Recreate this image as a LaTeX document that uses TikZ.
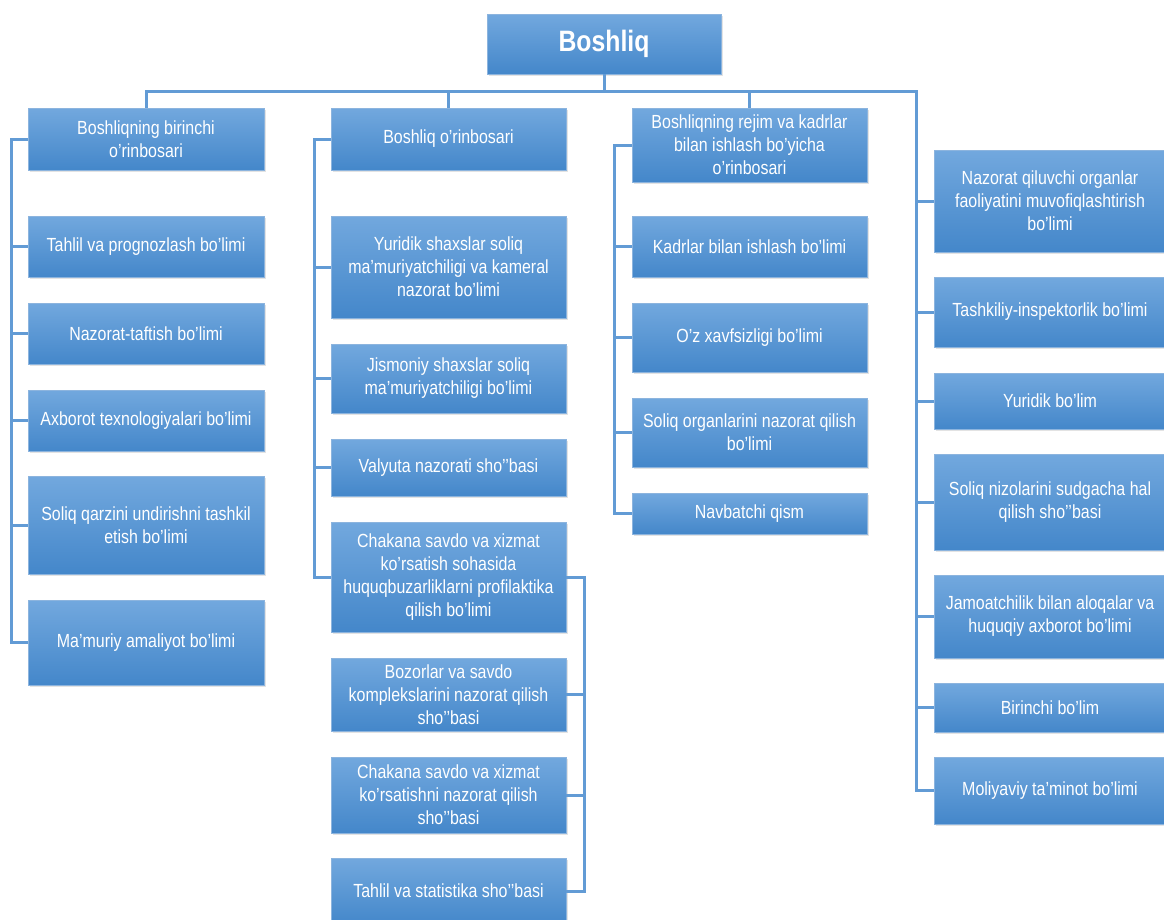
\documentclass[tikz,border=0pt]{standalone}
\usepackage{fontspec}
\setmainfont{Liberation Sans}[FakeStretch=0.84]
\usetikzlibrary{shadows}
\definecolor{boxtop}{RGB}{114,168,222}
\definecolor{boxmid}{RGB}{86,154,218}
\definecolor{boxbot}{RGB}{68,135,202}
\definecolor{connc}{RGB}{98,155,213}
\definecolor{boxedge}{RGB}{140,180,222}
\tikzset{
  orgbox/.style={rectangle, inner sep=0pt, align=center, text=white,
    top color=boxtop, middle color=boxmid, bottom color=boxbot,
    draw=boxedge, line width=0.6pt,
    drop shadow={opacity=0.22, shadow xshift=1.5pt, shadow yshift=-1.5pt},
    font=\fontsize{19}{23}\selectfont},
  conn/.style={draw=connc, line width=3pt}
}
\begin{document}
\begin{tikzpicture}[x=1pt,y=-1pt]
\useasboundingbox (0,0) rectangle (1164,919);
% root
\node[orgbox, minimum width=234, minimum height=60, font=\fontsize{29.5}{33}\selectfont\bfseries] (root) at (604,44) {Boshliq};
% column 1
\node[orgbox, minimum width=236, minimum height=62] (h1) at (146,139) {Boshliqning birinchi\\o’rinbosari};
\node[orgbox, minimum width=236, minimum height=61] (a1) at (146,246.5) {Tahlil va prognozlash bo’limi};
\node[orgbox, minimum width=236, minimum height=61] (a2) at (146,333.5) {Nazorat-taftish bo’limi};
\node[orgbox, minimum width=236, minimum height=61] (a3) at (146,420.5) {Axborot texnologiyalari bo’limi};
\node[orgbox, minimum width=236, minimum height=98] (a4) at (146,525) {Soliq qarzini undirishni tashkil\\etish bo’limi};
\node[orgbox, minimum width=236, minimum height=85] (a5) at (146,642.5) {Ma’muriy amaliyot bo’limi};
% column 2
\node[orgbox, minimum width=235, minimum height=62] (h2) at (448.5,139) {Boshliq o’rinbosari};
\node[orgbox, minimum width=235, minimum height=102] (b1) at (448.5,267) {Yuridik shaxslar soliq\\ma’muriyatchiligi va kameral\\nazorat bo’limi};
\node[orgbox, minimum width=235, minimum height=69] (b2) at (448.5,378.5) {Jismoniy shaxslar soliq\\ma’muriyatchiligi bo’limi};
\node[orgbox, minimum width=235, minimum height=57] (b3) at (448.5,467.5) {Valyuta nazorati sho’’basi};
\node[orgbox, minimum width=235, minimum height=110] (b4) at (448.5,577) {Chakana savdo va xizmat\\ko’rsatish sohasida\\huquqbuzarliklarni profilaktika\\qilish bo’limi};
\node[orgbox, minimum width=235, minimum height=73] (b5) at (448.5,694.5) {Bozorlar va savdo\\komplekslarini nazorat qilish\\sho’’basi};
\node[orgbox, minimum width=235, minimum height=76] (b6) at (448.5,795) {Chakana savdo va xizmat\\ko’rsatishni nazorat qilish\\sho’’basi};
\node[orgbox, minimum width=235, minimum height=66] (b7) at (448.5,891) {Tahlil va statistika sho’’basi};
% column 3
\node[orgbox, minimum width=235, minimum height=74] (h3) at (749.5,145) {Boshliqning rejim va kadrlar\\bilan ishlash bo’yicha\\o’rinbosari};
\node[orgbox, minimum width=235, minimum height=61] (c1) at (749.5,246.5) {Kadrlar bilan ishlash bo’limi};
\node[orgbox, minimum width=235, minimum height=69] (c2) at (749.5,337.5) {O’z xavfsizligi bo’limi};
\node[orgbox, minimum width=235, minimum height=69] (c3) at (749.5,432.5) {Soliq organlarini nazorat qilish\\bo’limi};
\node[orgbox, minimum width=235, minimum height=41] (c4) at (749.5,513.5) {Navbatchi qism};
% column 4
\node[orgbox, minimum width=232, minimum height=102] (d1) at (1050,201) {Nazorat qiluvchi organlar\\faoliyatini muvofiqlashtirish\\bo’limi};
\node[orgbox, minimum width=232, minimum height=70] (d2) at (1050,312) {Tashkiliy-inspektorlik bo’limi};
\node[orgbox, minimum width=232, minimum height=56] (d3) at (1050,401) {Yuridik bo’lim};
\node[orgbox, minimum width=232, minimum height=96] (d4) at (1050,502) {Soliq nizolarini sudgacha hal\\qilish sho’’basi};
\node[orgbox, minimum width=232, minimum height=83] (d5) at (1050,616.5) {Jamoatchilik bilan aloqalar va\\huquqiy axborot bo’limi};
\node[orgbox, minimum width=232, minimum height=49] (d6) at (1050,707.5) {Birinchi bo’lim};
\node[orgbox, minimum width=232, minimum height=67] (d7) at (1050,790.5) {Moliyaviy ta’minot bo’limi};
% guide coordinates
\coordinate (bus) at (0,91);
\coordinate (L1) at (11,0);
\coordinate (L2) at (314,0);
\coordinate (R2) at (584,0);
\coordinate (L3) at (614,0);
\coordinate (R4) at (916,0);
% connectors: top
\draw[conn] (root.south) -- (root.south |- bus);
\draw[conn] (h1.north) -- (h1.north |- bus) -- (R4 |- bus) -- (R4 |- d7.west) -- (d7.west);
\draw[conn] (h2.north) -- (h2.north |- bus);
\draw[conn] (h3.north) -- (h3.north |- bus);
% column 1
\draw[conn] (h1.west) -- (h1.west -| L1) -- (a5.west -| L1) -- (a5.west);
\foreach \n in {a1,a2,a3,a4} \draw[conn] (\n.west) -- (\n.west -| L1);
% column 2
\draw[conn] (h2.west) -- (h2.west -| L2) -- (b4.west -| L2) -- (b4.west);
\foreach \n in {b1,b2,b3} \draw[conn] (\n.west) -- (\n.west -| L2);
\draw[conn] (b4.east) -- (b4.east -| R2) -- (b7.east -| R2) -- (b7.east);
\foreach \n in {b5,b6} \draw[conn] (\n.east) -- (\n.east -| R2);
% column 3
\draw[conn] (h3.west) -- (h3.west -| L3) -- (c4.west -| L3) -- (c4.west);
\foreach \n in {c1,c2,c3} \draw[conn] (\n.west) -- (\n.west -| L3);
% column 4
\foreach \n in {d1,d2,d3,d4,d5,d6} \draw[conn] (\n.west) -- (\n.west -| R4);
\end{tikzpicture}
\end{document}
